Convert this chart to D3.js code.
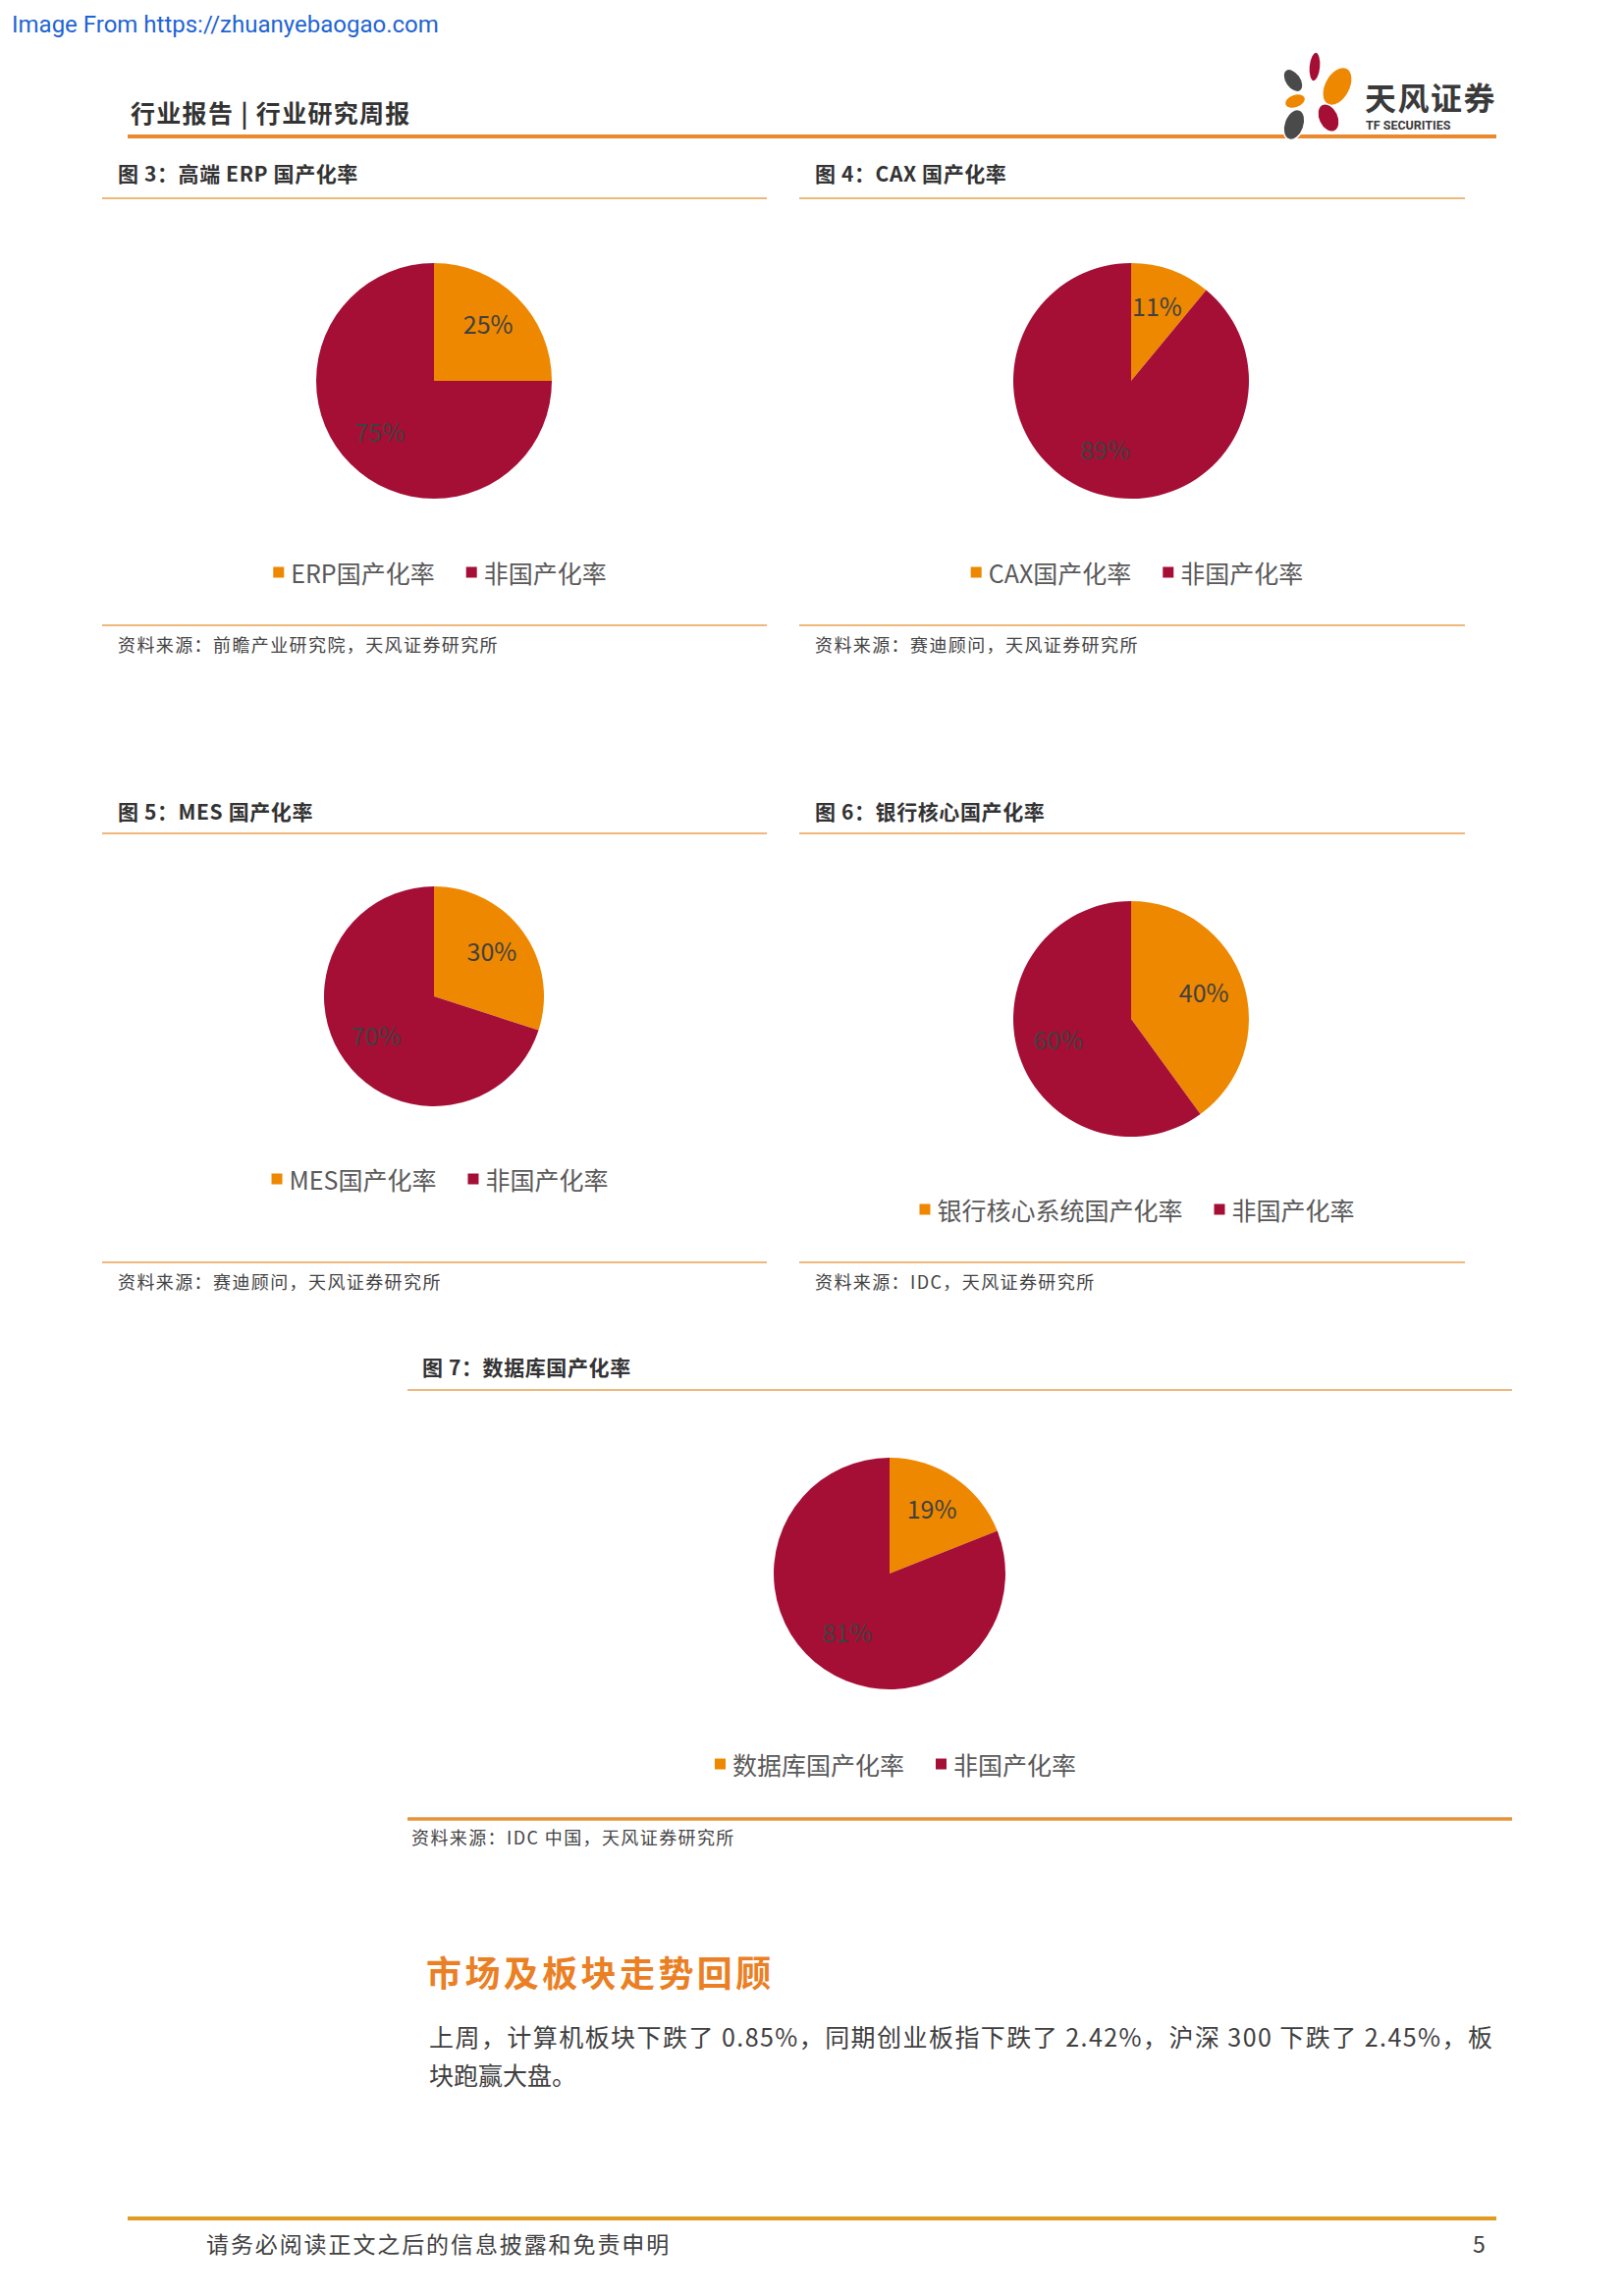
<!DOCTYPE html>
<html>
<head>
<meta charset="utf-8">
<script src="https://cdn.jsdelivr.net/npm/d3@7"></script>
<style>
  html, body { margin: 0; padding: 0; background: #fff; }
  svg { display: block; }
  text { font-family: "Noto Sans CJK SC", "Noto Sans", sans-serif; }
</style>
</head>
<body>
<div id="chart"></div>
<script>
// ---------------- data ----------------
const figureTitles = [
  "图 3：高端 ERP 国产化率",
  "图 4：CAX 国产化率",
  "图 5：MES 国产化率",
  "图 6：银行核心国产化率",
  "图 7：数据库国产化率"
];
const domesticLabels = ["ERP国产化率", "CAX国产化率", "MES国产化率", "银行核心系统国产化率", "数据库国产化率"];
const foreignLabels = ["非国产化率", "非国产化率", "非国产化率", "非国产化率", "非国产化率"];
const domesticValues = [25, 11, 30, 40, 19];
const foreignValues = [75, 89, 70, 60, 81];
const sourceNotes = [
  "资料来源：前瞻产业研究院，天风证券研究所",
  "资料来源：赛迪顾问，天风证券研究所",
  "资料来源：赛迪顾问，天风证券研究所",
  "资料来源：IDC，天风证券研究所",
  "资料来源：IDC 中国，天风证券研究所"
];
const headerText = "行业报告 | 行业研究周报";
const watermarkText = "Image From https://zhuanyebaogao.com";
const sectionHeading = "市场及板块走势回顾";
const paragraphLines = [
  "上周，计算机板块下跌了 0.85%，同期创业板指下跌了 2.42%，沪深 300 下跌了 2.45%，板",
  "块跑赢大盘。"
];
const footerText = "请务必阅读正文之后的信息披露和免责申明";
const pageNumber = "5";

// ---------------- styles / layout ----------------
const ORANGE = "#EE8800";
const CRIMSON = "#A50E35";
const RULE = "#E9A04E";
const sliceColors = d3.scaleOrdinal().domain(["domestic", "foreign"]).range([ORANGE, CRIMSON]);

const panels = [
  { x0: 104, x1: 781, titleX: 120, titleY: 185, ruleTop: 202, cx: 442, cy: 388, r: 120, legendY: 583, ruleBottom: 637, sourceX: 120, sourceY: 664, thick: false },
  { x0: 814, x1: 1492, titleX: 830, titleY: 185, ruleTop: 202, cx: 1152, cy: 388, r: 120, legendY: 583, ruleBottom: 637, sourceX: 830, sourceY: 664, thick: false },
  { x0: 104, x1: 781, titleX: 120, titleY: 835, ruleTop: 849, cx: 442, cy: 1015, r: 112, legendY: 1201, ruleBottom: 1286, sourceX: 120, sourceY: 1313, thick: false },
  { x0: 814, x1: 1492, titleX: 830, titleY: 835, ruleTop: 849, cx: 1152, cy: 1038, r: 120, legendY: 1232, ruleBottom: 1286, sourceX: 830, sourceY: 1313, thick: false },
  { x0: 415, x1: 1540, titleX: 430, titleY: 1401, ruleTop: 1416, cx: 906, cy: 1603, r: 118, legendY: 1797, ruleBottom: 1853, sourceX: 419, sourceY: 1879, thick: true }
];

const svg = d3.select("#chart").append("svg")
  .attr("width", 1654).attr("height", 2339);

// watermark
svg.append("text").attr("x", 12).attr("y", 33)
  .style("font-family", "Roboto, sans-serif").style("font-size", "24px")
  .attr("fill", "#1F64D4").text(watermarkText);

// header
svg.append("text").attr("x", 133).attr("y", 125)
  .style("font-size", "25px").style("font-weight", "bold").style("letter-spacing", "1.3px")
  .attr("fill", "#333").text(headerText);
svg.append("line").attr("x1", 130).attr("x2", 1524).attr("y1", 139).attr("y2", 139)
  .attr("stroke", "#EA8A2C").attr("stroke-width", 4);

// logo
const petals = [
  { cx: 1339, cy: 68, rx: 6, ry: 15, rot: 5, c: CRIMSON },
  { cx: 1317, cy: 82, rx: 8, ry: 13, rot: -35, c: "#4A4A4A" },
  { cx: 1362, cy: 88, rx: 13, ry: 21, rot: 28, c: ORANGE },
  { cx: 1319, cy: 103, rx: 11, ry: 7, rot: -20, c: ORANGE },
  { cx: 1353, cy: 120, rx: 10, ry: 15, rot: -25, c: CRIMSON },
  { cx: 1318, cy: 127, rx: 10, ry: 16, rot: 20, c: "#4A4A4A" }
];
const logo = svg.append("g");
logo.selectAll("ellipse").data(petals).join("ellipse")
  .attr("cx", d => d.cx).attr("cy", d => d.cy).attr("rx", d => d.rx).attr("ry", d => d.ry)
  .attr("transform", d => `rotate(${d.rot},${d.cx},${d.cy})`)
  .attr("fill", d => d.c).attr("stroke", "#fff").attr("stroke-width", 1.5);
logo.append("text").attr("x", 1390).attr("y", 112)
  .style("font-size", "32px").style("font-weight", "bold").style("letter-spacing", "1.5px")
  .attr("fill", "#3A3A3A").text("天风证券");
logo.append("text").attr("x", 1391).attr("y", 132)
  .style("font-family", "Roboto, sans-serif").style("font-size", "12.5px").style("font-weight", "bold")
  .attr("fill", "#3A3A3A").text("TF SECURITIES");

// pies
const pie = d3.pie().sort(null).value(d => d.value);

panels.forEach((p, i) => {
  const g = svg.append("g");
  g.append("text").attr("x", p.titleX).attr("y", p.titleY)
    .style("font-size", "21px").style("font-weight", "bold").style("letter-spacing", "0.6px")
    .attr("fill", "#333").text(figureTitles[i]);
  g.append("line").attr("x1", p.x0).attr("x2", p.x1).attr("y1", p.ruleTop).attr("y2", p.ruleTop)
    .attr("stroke", RULE).attr("stroke-width", 1.5);
  g.append("line").attr("x1", p.x0).attr("x2", p.x1).attr("y1", p.ruleBottom).attr("y2", p.ruleBottom)
    .attr("stroke", p.thick ? "#E8923A" : RULE).attr("stroke-width", p.thick ? 3.5 : 1.5);
  g.append("text").attr("x", p.sourceX).attr("y", p.sourceY)
    .style("font-size", "18px").style("letter-spacing", "1.4px")
    .attr("fill", "#444").text(sourceNotes[i]);

  const slices = [
    { key: "domestic", label: domesticLabels[i], value: domesticValues[i] },
    { key: "foreign", label: foreignLabels[i], value: foreignValues[i] }
  ];
  const arcs = pie(slices);
  const arc = d3.arc().innerRadius(0).outerRadius(p.r);
  const labelArc = d3.arc().innerRadius(p.r * 0.3).outerRadius(p.r);
  const pg = g.append("g").attr("transform", `translate(${p.cx},${p.cy})`);
  pg.selectAll("path").data(arcs).join("path")
    .attr("d", arc).attr("fill", d => sliceColors(d.data.key));
  pg.selectAll("text.lbl").data(arcs).join("text").attr("class", "lbl")
    .attr("transform", d => {
      const [lx, ly] = labelArc.centroid(d);
      return `translate(${lx},${ly - 4})`;
    })
    .attr("text-anchor", "middle").attr("dominant-baseline", "central")
    .style("font-size", "25px").attr("fill", "#404040")
    .text(d => d.data.value + "%");

  // legend
  const lg = g.append("g");
  let x = 0;
  slices.forEach(s => {
    lg.append("rect").attr("x", x).attr("y", -5.5).attr("width", 11).attr("height", 11)
      .attr("fill", sliceColors(s.key));
    const t = lg.append("text").attr("x", x + 18).attr("y", 0)
      .attr("dominant-baseline", "central")
      .style("font-size", "25px").attr("fill", "#595959").text(s.label);
    x += 18 + t.node().getComputedTextLength() + 32;
  });
  const total = x - 32;
  lg.attr("transform", `translate(${p.cx + 6 - total / 2},${p.legendY})`);
});

// section heading and paragraph
svg.append("text").attr("x", 434).attr("y", 2024)
  .style("font-size", "36px").style("font-weight", "bold").style("letter-spacing", "3.4px")
  .attr("fill", "#EA7F24").text(sectionHeading);
svg.append("text").attr("x", 437).attr("y", 2085)
  .attr("textLength", 1083).attr("lengthAdjust", "spacing")
  .style("font-size", "25px").attr("fill", "#404040").text(paragraphLines[0]);
svg.append("text").attr("x", 437).attr("y", 2124)
  .style("font-size", "25px").attr("fill", "#404040").text(paragraphLines[1]);

// footer
svg.append("line").attr("x1", 130).attr("x2", 1524).attr("y1", 2260).attr("y2", 2260)
  .attr("stroke", "#E39A22").attr("stroke-width", 4);
svg.append("text").attr("x", 210).attr("y", 2295)
  .style("font-size", "23px").style("letter-spacing", "1.9px")
  .attr("fill", "#404040").text(footerText);
svg.append("text").attr("x", 1500).attr("y", 2295)
  .style("font-size", "23px").attr("fill", "#404040").text(pageNumber);
</script>
</body>
</html>
